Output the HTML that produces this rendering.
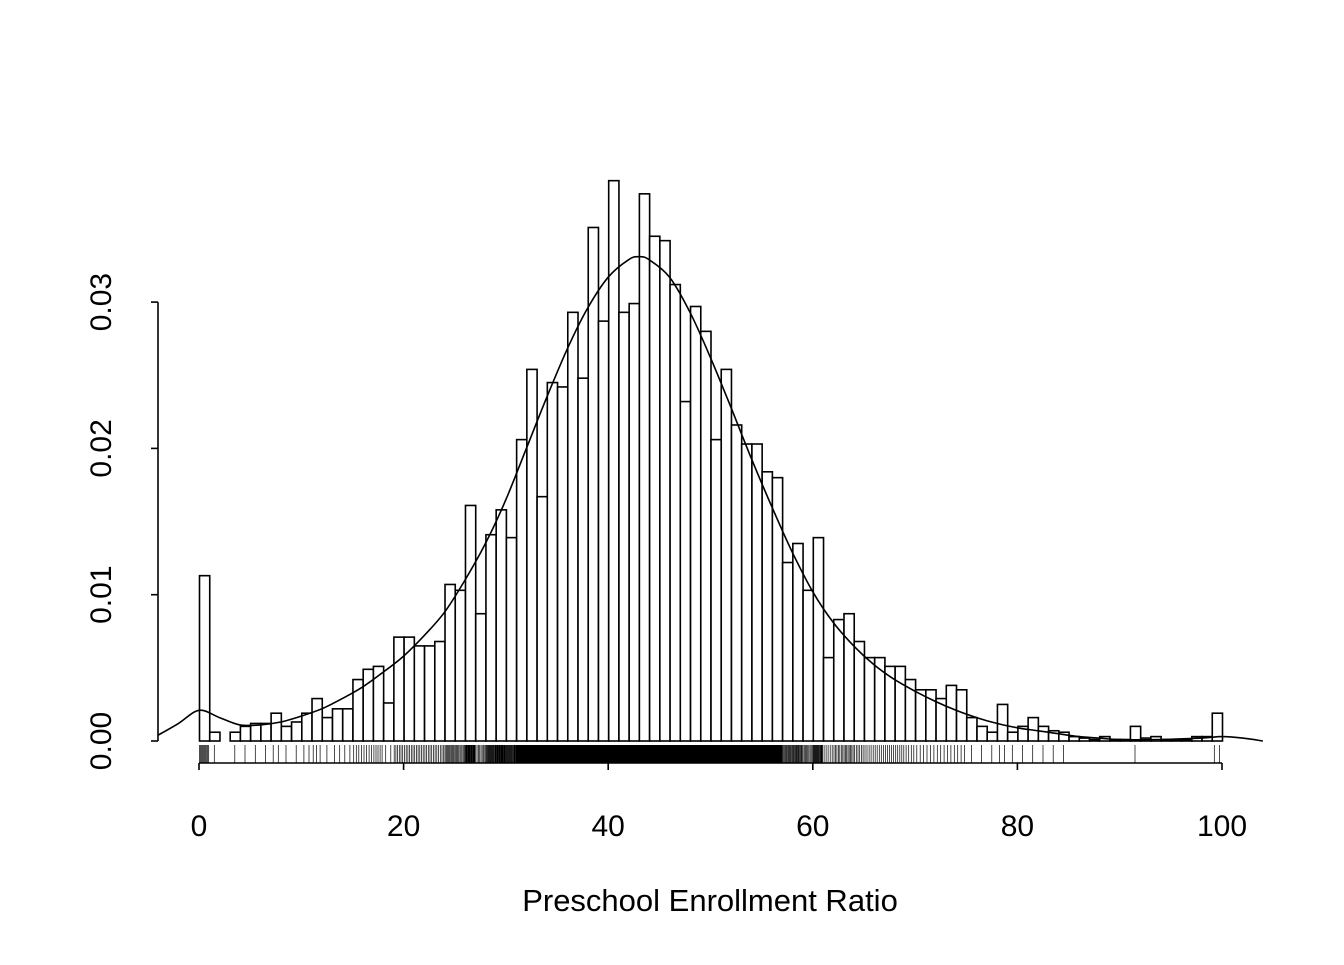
<!DOCTYPE html>
<html><head><meta charset="utf-8"><style>
html,body{margin:0;padding:0;background:#fff;}
svg text{font-family:"Liberation Sans",Arial,sans-serif;fill:#000;}
</style></head><body>
<svg id="chart" width="1344" height="960" xmlns="http://www.w3.org/2000/svg">
<g id="bars"></g>
<g id="rug"></g>
<path id="dens" fill="none" stroke="#000" stroke-width="1.6"/>
<g id="xaxis"></g>
<g id="yaxis"></g>
<text x="710" y="911" font-size="31" text-anchor="middle">Preschool Enrollment Ratio</text>
</svg>
<script>
const binStarts = Array.from({length:100},(_, i)=>i);
const densities = [0.0113,0.0006,0,0.0006,0.001,0.0012,0.0012,0.0019,0.001,0.0013,
0.0019,0.0029,0.0016,0.0022,0.0022,0.0042,0.0049,0.0051,0.0026,0.0071,
0.0071,0.0065,0.0065,0.0068,0.0107,0.0103,0.0161,0.0087,0.0141,0.0158,
0.0139,0.0206,0.0254,0.0167,0.0245,0.0242,0.0293,0.0248,0.0351,0.0287,
0.0383,0.0293,0.0299,0.0374,0.0345,0.0342,0.0312,0.0232,0.0297,0.028,
0.0206,0.0254,0.0216,0.0203,0.0203,0.0184,0.018,0.0122,0.0135,0.0103,
0.0139,0.0057,0.0083,0.0087,0.0068,0.0057,0.0057,0.0051,0.0051,0.0042,
0.0035,0.0035,0.0029,0.0038,0.0035,0.0016,0.001,0.0006,0.0025,0.0006,
0.001,0.0016,0.001,0.0007,0.0006,0.0003,0.0002,0.0001,0.0003,0.0001,
0.0001,0.001,0.0002,0.0003,0.0001,0.0001,0.0001,0.0003,0.0003,0.0019];
const densX = [-4,-2,0,2,4,6,8,10,12,14,16,18,20,22,24,26,28,30,32,34,36,38,40,42,43,44,46,48,50,52,54,56,58,60,62,64,66,68,70,72,74,76,78,80,82,84,86,88,90,94,98,100,102,104];
const densY = [0.0004,0.0012,0.0021,0.0016,0.0011,0.0011,0.0013,0.0017,0.0022,0.0029,0.0037,0.0047,0.0058,0.0072,0.0088,0.011,0.0135,0.0165,0.02,0.0235,0.0268,0.0296,0.0317,0.0329,0.0331,0.0329,0.0317,0.0293,0.0262,0.0228,0.0193,0.016,0.0129,0.0102,0.0081,0.0065,0.0052,0.0042,0.0034,0.0027,0.0021,0.0016,0.0012,0.0009,0.0007,0.0005,0.0003,0.0002,0.0001,0.0001,0.0002,0.0003,0.0002,0];
const xTicks = [0,20,40,60,80,100];
const yTicks = [0,0.01,0.02,0.03];
const yTickLabels = ["0.00","0.01","0.02","0.03"];

const NS="http://www.w3.org/2000/svg";
const sx = v => 199 + v*10.23;
const sy = v => 741 - v*14630;
function mk(tag, parent){const e=document.createElementNS(NS,tag);parent.appendChild(e);return e;}

const bars=document.getElementById('bars');
binStarts.forEach((b,i)=>{
  if(densities[i]<=0) return;
  const r=mk('rect',bars);
  
  
  r.setAttribute('x',sx(b)+0.5);r.setAttribute('y',sy(densities[i]));
  r.setAttribute('width',10.23);r.setAttribute('height',sy(0)-sy(densities[i]));
  r.setAttribute('fill','#fff');r.setAttribute('stroke','#000');r.setAttribute('stroke-width','1.6');
});

const rug=document.getElementById('rug');
let rd='';
binStarts.forEach((b,i)=>{
  const n=Math.round(densities[i]*900);
  for(let k=0;k<n;k++){const x=sx(b+(k+0.5)/n);rd+=`M${x.toFixed(1)},745V763`;}
});
const rp=mk('path',rug);


rp.setAttribute('d',rd);rp.setAttribute('stroke','#000');rp.setAttribute('stroke-width','0.7');

// smooth Catmull-Rom curve through density points
const pts=densX.map((x,i)=>[sx(x),sy(densY[i])]);
let d=`M${pts[0][0].toFixed(1)},${pts[0][1].toFixed(1)}`;
for(let i=0;i<pts.length-1;i++){
  const p0=pts[Math.max(0,i-1)],p1=pts[i],p2=pts[i+1],p3=pts[Math.min(pts.length-1,i+2)];
  const c1=[p1[0]+(p2[0]-p0[0])/6,p1[1]+(p2[1]-p0[1])/6];
  const c2=[p2[0]-(p3[0]-p1[0])/6,p2[1]-(p3[1]-p1[1])/6];
  d+=`C${c1[0].toFixed(1)},${c1[1].toFixed(1)} ${c2[0].toFixed(1)},${c2[1].toFixed(1)} ${p2[0].toFixed(1)},${p2[1].toFixed(1)}`;
}
document.getElementById('dens').setAttribute('d',d);

const xa=document.getElementById('xaxis');
const xl=mk('line',xa);


xl.setAttribute('x1',sx(0));xl.setAttribute('x2',sx(100));xl.setAttribute('y1',763);xl.setAttribute('y2',763);xl.setAttribute('stroke','#000');xl.setAttribute('stroke-width','1.6');
xTicks.forEach(t=>{
  const l=mk('line',xa);
  
  
  l.setAttribute('x1',sx(t));l.setAttribute('x2',sx(t));l.setAttribute('y1',763);l.setAttribute('y2',770);l.setAttribute('stroke','#000');l.setAttribute('stroke-width','1.6');
  const tx=mk('text',xa);
  
  
  tx.setAttribute('x',sx(t));tx.setAttribute('y',836);tx.setAttribute('font-size','30');tx.setAttribute('text-anchor','middle');tx.textContent=t;
});

const ya=document.getElementById('yaxis');
const yl=mk('line',ya);


yl.setAttribute('x1',158);yl.setAttribute('x2',158);yl.setAttribute('y1',sy(0));yl.setAttribute('y2',sy(0.03));yl.setAttribute('stroke','#000');yl.setAttribute('stroke-width','1.6');
yTicks.forEach((t,i)=>{
  const l=mk('line',ya);
  
  
  l.setAttribute('x1',151);l.setAttribute('x2',158);l.setAttribute('y1',sy(t));l.setAttribute('y2',sy(t));l.setAttribute('stroke','#000');l.setAttribute('stroke-width','1.6');
  const tx=mk('text',ya);
  
  
  tx.setAttribute('transform',`translate(111,${sy(t)}) rotate(-90)`);tx.setAttribute('font-size','30');tx.setAttribute('text-anchor','middle');tx.textContent=yTickLabels[i];
});
</script>
</body></html>
